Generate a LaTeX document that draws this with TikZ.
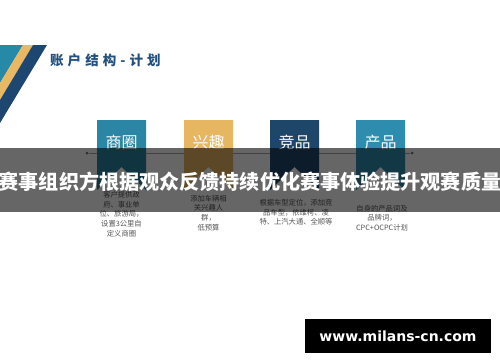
\documentclass[tikz,border=0pt]{standalone}
\usepackage{fontspec}
\setmainfont{Noto Sans CJK SC}
\newfontfamily\urlfont{DejaVu Sans}
\usepackage{xcolor}
\usepackage{tikz}
\usetikzlibrary{positioning}

\definecolor{hdteal}{HTML}{2689A8}
\definecolor{hdgold}{HTML}{E9B862}
\definecolor{hdnavy}{HTML}{1D4670}
\definecolor{ttlblue}{HTML}{24507E}
\definecolor{rbteal}{HTML}{2A86A4}
\definecolor{rbgold}{HTML}{E6B660}
\definecolor{rbnavy}{HTML}{1E4669}
\definecolor{rbsky}{HTML}{2E8DAF}
\definecolor{desc}{HTML}{555555}

\begin{document}
\begin{tikzpicture}[
  x=1pt, y=-1pt,
  lbl/.style={text=white, font=\fontsize{16}{16}\selectfont, inner sep=0pt},
  note/.style={text=desc, font=\fontsize{7.3}{9.6}\selectfont, align=center, inner sep=0pt},
  dot/.style={circle, fill=black!55, inner sep=0pt, minimum size=3pt},
  tline/.style={draw=black!35, line width=0.6pt},
]
\useasboundingbox (0,0) rectangle (500,362);
\fill[white] (0,0) rectangle (500,362);

% header stripes
\fill[hdteal] (0,45) -- (23,45) -- (0,83) -- cycle;
\fill[hdgold] (23,45) -- (33,45) -- (0,100) -- (0,83) -- cycle;
\fill[hdnavy] (33,45) -- (47,45) -- (0,123) -- (0,100) -- cycle;
\node[text=ttlblue, font=\fontsize{13.5}{13.5}\selectfont\bfseries, anchor=west, inner sep=0pt] (title) at (50,60)
  {\addfontfeatures{LetterSpace=30}账户结构-计划};

% time line
\node[dot] (lft) at (87,153) {};
\node[dot] (rgt) at (412,153) {};
\draw[tline] (lft) -- (rgt);

% ribbons
\coordinate (c1) at (121.5,120);
\coordinate (c2) at (208.5,120);
\coordinate (c3) at (294.5,120);
\coordinate (c4) at (380.5,120);
\fill[rbteal] (c1) ++(-24.5,0) -- ++(49,0) -- ++(0,70) -- ++(-24.5,-23) -- ++(-24.5,23) -- cycle;
\fill[rbgold] (c2) ++(-24.5,0) -- ++(49,0) -- ++(0,70) -- ++(-24.5,-23) -- ++(-24.5,23) -- cycle;
\fill[rbnavy] (c3) ++(-24.5,0) -- ++(49,0) -- ++(0,70) -- ++(-24.5,-23) -- ++(-24.5,23) -- cycle;
\fill[rbsky] (c4) ++(-24.5,0) -- ++(49,0) -- ++(0,70) -- ++(-24.5,-23) -- ++(-24.5,23) -- cycle;
\node[lbl] (shq) at (121.5,142) {商圈};
\node[lbl] (xq) at (208.5,142) {兴趣};
\node[lbl] (jp) at (294.5,142) {竞品};
\node[lbl] (cp) at (380.5,142) {产品};

\node[note] (shqtxt) at (121.5,214) {客户提供政\\府、事业单\\位、旅游局，\\设置3公里自\\定义商圈};
\node[note] (xqtxt) at (208.5,213) {添加车辆相\\关兴趣人\\群，\\低预算};
\node[note] (jptxt) at (296,212.5) {根据车型定位，添加竞\\品车型，依维柯、凌\\特、上汽大通、全顺等};
\node[note] (cptxt) at (382,218) {自身的产品词及\\品牌词，\\CPC+OCPC计划};

% caption band
\fill[black, opacity=0.6] (0,148) rectangle (500,212);
\node[text=white, font=\fontsize{20.1}{20}\selectfont\bfseries, inner sep=0pt] (band) at (250,182)
  {赛事组织方根据观众反馈持续优化赛事体验提升观赛质量};

% watermark
\node[fill=black, text=white, font=\urlfont\bfseries\fontsize{14}{14}\selectfont,
      minimum width=186pt, minimum height=34pt, inner sep=0pt] (wm) at (398,336) {www.milans-cn.com};
\end{tikzpicture}
\end{document}
